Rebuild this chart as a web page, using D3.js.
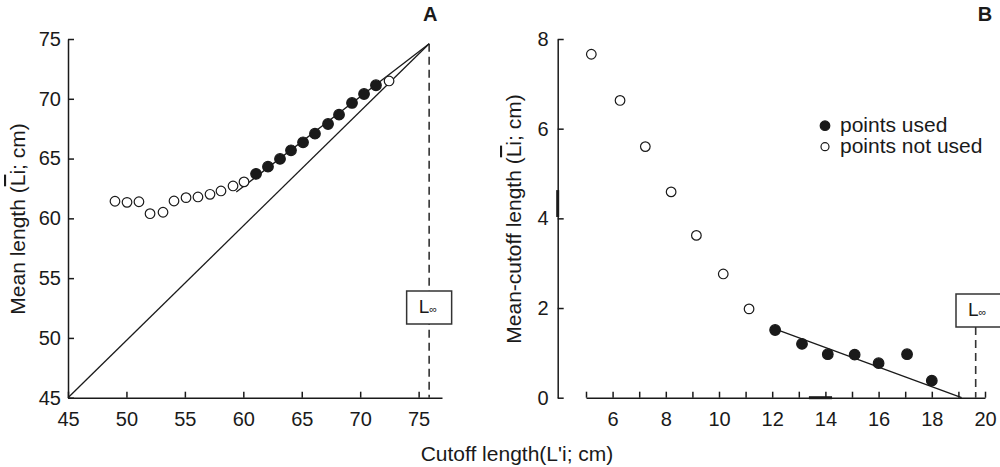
<!DOCTYPE html>
<html><head><meta charset="utf-8">
<script src="https://cdn.jsdelivr.net/npm/d3@7"></script>
<style>
body{margin:0;background:#fff}
text{font-family:"Liberation Sans",Arial,Helvetica,sans-serif;fill:#1a1a1a}
</style>
</head><body>
<svg id="c" width="1000" height="467"></svg>
<script>
// ---------- Panel A data ----------
const cutoffA = [49.02,50.05,51.07,52.02,53.13,54.07,55.10,56.12,57.15,58.09,59.12,60.06,
                 61.09,62.11,63.14,64.08,65.11,66.13,67.25,68.19,69.30,70.33,71.35,72.47];
const meanA   = [61.43,61.34,61.39,60.39,60.51,61.45,61.73,61.79,62.01,62.29,62.71,63.05,
                 63.72,64.32,64.97,65.69,66.36,67.08,67.89,68.67,69.65,70.40,71.13,71.49];
const usedA   = [0,0,0,0,0,0,0,0,0,0,0,0, 1,1,1,1,1,1,1,1,1,1,1, 0];
const identityLineA = [[45,45],[75.9,74.6]];
const fitLineA = [[59.4,62.2],[75.9,74.6]];
const linfA = 75.9;
const xTicksA = [45,50,55,60,65,70,75];
const yTicksA = [45,50,55,60,65,70,75];

// ---------- Panel B data ----------
const cutoffB = [5.2,6.28,7.23,8.2,9.15,10.16,11.13,12.11,13.12,14.09,15.1,16.0,17.07,18.0];
const diffB   = [7.66,6.63,5.6,4.59,3.62,2.76,1.98,1.51,1.20,0.97,0.96,0.77,0.97,0.38];
const usedB   = [0,0,0,0,0,0,0,1,1,1,1,1,1,1];
const fitLineB = [[12.3,1.49],[19.12,0]];
const linfB = 19.65;
const xTicksB = [5,6,7,8,9,10,11,12,13,14,15,16,17,18,19,20];
const yTicksB = [0,2,4,6,8];

const legendLabels = ["points used","points not used"];

const svg = d3.select("#c");
const ink = "#1a1a1a";
const TICK_FS = 20, TITLE_FS = 21;

// scales
const xA = d3.scaleLinear().domain([45,77]).range([68,442]);
const yA = d3.scaleLinear().domain([45,75]).range([397.7,39]);
const xB = d3.scaleLinear().domain([5,20]).range([586,985]);
const yB = d3.scaleLinear().domain([0,8]).range([397.7,39]);

function styleAxis(g, fs){
  g.selectAll("path.domain").attr("stroke",ink).attr("stroke-width",1.5);
  g.selectAll(".tick line").attr("stroke",ink).attr("stroke-width",1.5);
  g.selectAll(".tick text").attr("font-size",fs).attr("fill",ink)
   .attr("font-family",'"Liberation Sans",Arial,sans-serif');
}

// ---------- Panel A ----------
const gA = svg.append("g");
gA.append("g").attr("transform",`translate(0,${yA(45)})`)
  .call(d3.axisBottom(xA).tickValues(xTicksA).tickSize(-6).tickSizeOuter(0).tickPadding(14))
  .call(g=>styleAxis(g,TICK_FS));
gA.append("g").attr("transform",`translate(${xA(45)},0)`)
  .call(d3.axisLeft(yA).tickValues(yTicksA).tickSize(-6).tickSizeOuter(0).tickPadding(7))
  .call(g=>styleAxis(g,TICK_FS));

const line = (xs,ys)=>d3.line().x(d=>xs(d[0])).y(d=>ys(d[1]));

// dashed Linf line A
gA.append("line").attr("x1",xA(linfA)).attr("x2",xA(linfA))
  .attr("y1",yA(74.6)).attr("y2",yA(45))
  .attr("stroke","#333").attr("stroke-width",1.6).attr("stroke-dasharray","8,5");
gA.append("path").attr("d",line(xA,yA)(identityLineA)).attr("fill","none").attr("stroke",ink).attr("stroke-width",1.3);
gA.append("path").attr("d",line(xA,yA)(fitLineA)).attr("fill","none").attr("stroke",ink).attr("stroke-width",1.3);

gA.selectAll("circle.pt").data(cutoffA.map((x,i)=>({x,y:meanA[i],u:usedA[i]})))
  .join("circle").attr("class","pt")
  .attr("cx",d=>xA(d.x)).attr("cy",d=>yA(d.y)).attr("r",d=>d.u?5.3:4.8)
  .attr("fill",d=>d.u?ink:"#fff").attr("stroke",ink).attr("stroke-width",1.2);

function linfBox(g, x0, top){
  g.append("rect").attr("x",x0).attr("y",top).attr("width",45).attr("height",33)
    .attr("fill","#fff").attr("stroke","#333").attr("stroke-width",1.5);
  const t = g.append("text").attr("x",x0+12).attr("y",top+22).attr("font-size",19);
  t.append("tspan").text("L");
  t.append("tspan").attr("font-size",11).text("∞");
}
linfBox(gA, xA(linfA)-22.5, 291);

gA.append("text").attr("x",xA(linfA)+1).attr("y",21).attr("text-anchor","middle")
  .attr("font-size",20).attr("font-weight","bold").text("A");

// y title A
const tA = gA.append("text").attr("transform","translate(25,219) rotate(-90)")
  .attr("text-anchor","middle").attr("font-size",TITLE_FS);
tA.append("tspan").text("Mean length (");
tA.append("tspan").style("text-decoration","overline").text("L");
tA.append("tspan").text("i; cm)");

// ---------- Panel B ----------
const gB = svg.append("g");
gB.append("g").attr("transform",`translate(0,${yB(0)})`)
  .call(d3.axisBottom(xB).tickValues(xTicksB).tickFormat(d=>d%2===0?d:"").tickSize(-6).tickSizeOuter(0).tickPadding(14))
  .call(g=>styleAxis(g,TICK_FS));
gB.append("g").attr("transform",`translate(557.7,0)`)
  .call(d3.axisLeft(yB).tickValues(yTicksB).tickSize(-6).tickSizeOuter(0).tickPadding(9))
  .call(g=>styleAxis(g,TICK_FS));
// scan artefacts (thicker axis segments)
gB.append("line").attr("x1",xB(13.38)).attr("x2",xB(14.25)).attr("y1",yB(0)).attr("y2",yB(0)).attr("stroke",ink).attr("stroke-width",3);
gB.append("line").attr("x1",557.7).attr("x2",557.7).attr("y1",yB(4.63)).attr("y2",yB(4.03)).attr("stroke",ink).attr("stroke-width",3);

gB.append("line").attr("x1",xB(linfB)).attr("x2",xB(linfB))
  .attr("y1",327).attr("y2",yB(0))
  .attr("stroke","#333").attr("stroke-width",1.6).attr("stroke-dasharray","8,5");
gB.append("path").attr("d",line(xB,yB)(fitLineB)).attr("fill","none").attr("stroke",ink).attr("stroke-width",1.3);

gB.selectAll("circle.pt").data(cutoffB.map((x,i)=>({x,y:diffB[i],u:usedB[i]})))
  .join("circle").attr("class","pt")
  .attr("cx",d=>xB(d.x)).attr("cy",d=>yB(d.y)).attr("r",d=>d.u?5.3:4.8)
  .attr("fill",d=>d.u?ink:"#fff").attr("stroke",ink).attr("stroke-width",1.2);

linfBox(gB, 956, 294);

gB.append("text").attr("x",985).attr("y",21).attr("text-anchor","middle")
  .attr("font-size",20).attr("font-weight","bold").text("B");

const tB = gB.append("text").attr("transform","translate(521,219) rotate(-90)")
  .attr("text-anchor","middle").attr("font-size",TITLE_FS);
tB.append("tspan").text("Mean-cutoff length (");
tB.append("tspan").style("text-decoration","overline").text("L");
tB.append("tspan").text("i; cm)");

// legend
const leg = gB.append("g");
[[125.7,1],[146.7,0]].forEach((p,i)=>{
  leg.append("circle").attr("cx",825).attr("cy",p[0]).attr("r",p[1]?4.8:4)
    .attr("fill",p[1]?ink:"#fff").attr("stroke",ink).attr("stroke-width",1.2);
  leg.append("text").attr("x",840).attr("y",p[0]+6).attr("font-size",TITLE_FS).text(legendLabels[i]);
});

// shared x title
svg.append("text").attr("x",517).attr("y",461).attr("text-anchor","middle")
  .attr("font-size",TITLE_FS).text("Cutoff length(L'i; cm)");
</script>
</body></html>
